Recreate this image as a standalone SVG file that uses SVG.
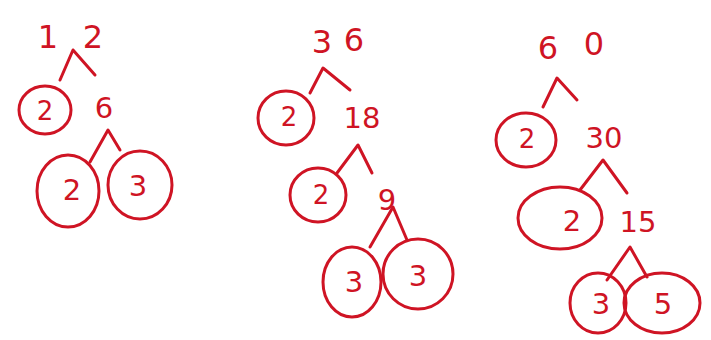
<svg xmlns="http://www.w3.org/2000/svg" width="711" height="340" viewBox="0 0 711 340">
<style>
.t{font-family:"DejaVu Sans","Liberation Sans",sans-serif;fill:#cf1424;text-anchor:middle;dominant-baseline:central}
.big{font-size:32px}
.mid{font-size:29px}
.sm{font-size:26px}
.c{fill:none;stroke:#cf1424;stroke-width:3}
.l{fill:none;stroke:#cf1424;stroke-width:3;stroke-linecap:round;stroke-linejoin:round}
</style>
<rect width="711" height="340" fill="#ffffff"/>
<g id="connectors">
<polyline class="l" points="60,80 73,50 95,75"/>
<polyline class="l" points="90,162 108,130 120,150"/>
<polyline class="l" points="310,93 323,68 350,90"/>
<polyline class="l" points="337,173 358,145 372,173"/>
<polyline class="l" points="370,247 393,207 407,240"/>
<polyline class="l" points="543,107 557,78 577,100"/>
<polyline class="l" points="580,190 603,160 627,193"/>
<polyline class="l" points="607,280 630,247 647,277"/>
</g>
<g id="n12"><text class="t big" x="48" y="37">1</text><text class="t big" x="93" y="37">2</text></g>
<g id="n12-2"><ellipse class="c" cx="45" cy="110" rx="26" ry="24"/><text class="t sm" x="45" y="111">2</text></g>
<g id="n6"><text class="t mid" x="104" y="108">6</text></g>
<g id="n6-2"><ellipse class="c" cx="68" cy="191" rx="31" ry="36"/><text class="t mid" x="72" y="190">2</text></g>
<g id="n6-3"><ellipse class="c" cx="140" cy="185" rx="32" ry="34"/><text class="t mid" x="138" y="186">3</text></g>
<g id="n36"><text class="t big" x="322" y="42">3</text><text class="t big" x="354" y="40">6</text></g>
<g id="n36-2"><ellipse class="c" cx="286" cy="118" rx="28" ry="27"/><text class="t sm" x="289" y="117">2</text></g>
<g id="n18"><text class="t mid" x="362" y="118">18</text></g>
<g id="n18-2"><ellipse class="c" cx="318" cy="195" rx="28" ry="27"/><text class="t sm" x="321" y="195">2</text></g>
<g id="n9"><text class="t mid" x="387" y="200">9</text></g>
<g id="n9-3a"><ellipse class="c" cx="352" cy="282" rx="29" ry="35"/><text class="t mid" x="354" y="282">3</text></g>
<g id="n9-3b"><ellipse class="c" cx="418" cy="274" rx="35" ry="35"/><text class="t mid" x="418" y="276">3</text></g>
<g id="n60"><text class="t big" x="548" y="48">6</text><text class="t big" x="594" y="44">0</text></g>
<g id="n60-2"><ellipse class="c" cx="526" cy="140" rx="30" ry="27"/><text class="t sm" x="527" y="139">2</text></g>
<g id="n30"><text class="t mid" x="604" y="138">30</text></g>
<g id="n30-2"><ellipse class="c" cx="560" cy="218" rx="42" ry="31"/><text class="t mid" x="572" y="221">2</text></g>
<g id="n15"><text class="t mid" x="638" y="222">15</text></g>
<g id="n15-3"><ellipse class="c" cx="598" cy="303" rx="28" ry="30"/><text class="t mid" x="601" y="304">3</text></g>
<g id="n15-5"><ellipse class="c" cx="662" cy="303" rx="38" ry="30"/><text class="t mid" x="663" y="304">5</text></g>
</svg>
